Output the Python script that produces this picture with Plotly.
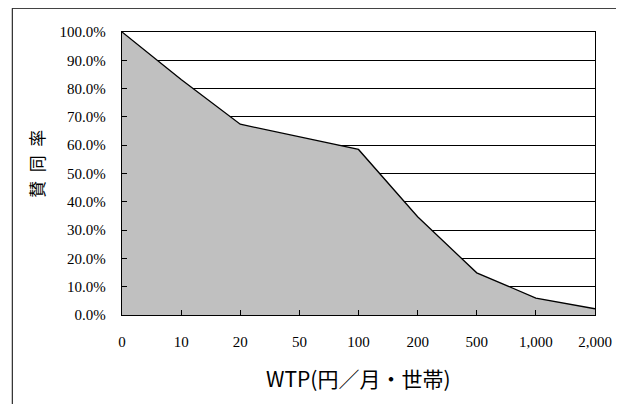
import plotly.graph_objects as go

categories = ["0", "10", "20", "50", "100", "200", "500", "1,000", "2,000"]
approval = [100.0, 83.2, 67.4, 63.0, 58.5, 34.7, 14.9, 6.0, 2.2]
y_ticks = [0, 10, 20, 30, 40, 50, 60, 70, 80, 90, 100]
y_tick_labels = [f"{v:.1f}%" for v in y_ticks]
x_title = "WTP(円／月・世帯)"
y_title = "賛\u2002同\u2002率"

# page has an 8px body margin; figure coords = page coords - 8
OFF = 8
W, H = 624 - OFF, 404 - OFF
L, R, T, B = 121.7 - OFF, 603.3 - OFF, 32.3 - OFF, 314.7 - OFF
pw, ph = R - L, B - T


def px(x):
    return (x - OFF - L) / pw


def py(y):
    return (B - (y - OFF)) / ph


fig = go.Figure()
fig.add_trace(go.Scatter(
    x=categories, y=approval, mode="lines", fill="tozeroy",
    fillcolor="#C0C0C0", line=dict(color="black", width=1.3),
    hoverinfo="skip", showlegend=False,
))

serif = "Liberation Serif, Times New Roman, serif"
gothic = "Noto Sans CJK JP, sans-serif"

fig.update_layout(
    width=W, height=H,
    margin=dict(l=L, r=W - R, t=T, b=H - B, pad=0),
    paper_bgcolor="white", plot_bgcolor="white",
    xaxis=dict(
        type="category", range=[0, len(categories) - 1],
        showgrid=False, showline=True, linecolor="black", linewidth=1.3,
        mirror=True, ticks="inside", ticklen=5, tickcolor="black",
        tickfont=dict(family=serif, size=15, color="black"),
        ticklabelstandoff=13,
        zeroline=False,
    ),
    yaxis=dict(
        range=[0, 100], tickvals=y_ticks, ticktext=y_tick_labels,
        showgrid=True, gridcolor="black", gridwidth=1,
        showline=True, linecolor="black", linewidth=1.3, mirror=True,
        ticks="inside", ticklen=5, tickcolor="black",
        tickfont=dict(family=serif, size=15, color="black"),
        ticklabelstandoff=12,
        zeroline=False,
    ),
    annotations=[
        dict(text=x_title, xref="paper", yref="paper", x=px(363), y=py(378),
             xanchor="center", yanchor="middle", showarrow=False,
             font=dict(family=gothic, size=21, color="black")),
        dict(text=y_title, xref="paper", yref="paper", x=px(35), y=py(164),
             xanchor="center", yanchor="middle", showarrow=False, textangle=-90,
             font=dict(family=gothic, size=17, color="black")),
    ],
    shapes=[dict(
        type="rect", xref="paper", yref="paper",
        x0=px(10), x1=px(660),
        y0=py(440), y1=(B - 0.6) / ph,
        line=dict(color="black", width=1), fillcolor="rgba(0,0,0,0)", layer="below",
    )],
)

fig.write_html("out.html")
